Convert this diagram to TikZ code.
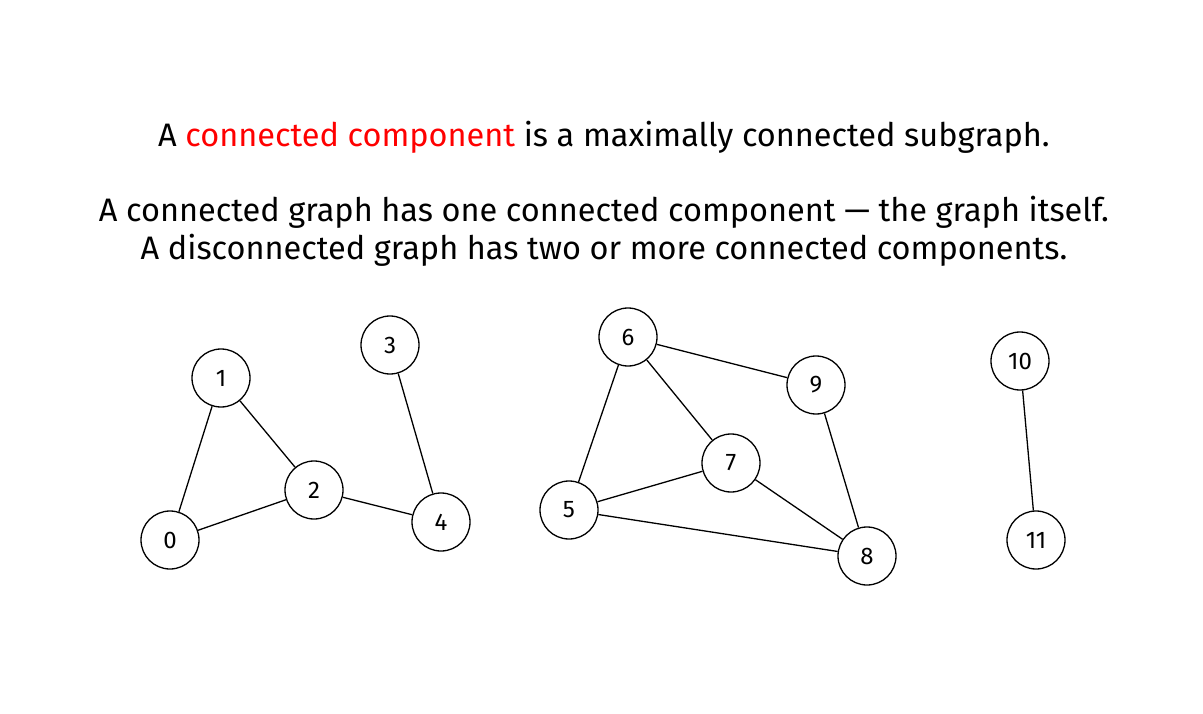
\documentclass[tikz,border=0pt]{standalone}
\usepackage{fontspec}
\setmainfont{Fira Sans}
\begin{document}
\begin{tikzpicture}[x=1pt,y=-1pt,
  v/.style={circle,draw,line width=1.3pt,minimum size=58pt,inner sep=0pt,font=\fontsize{24}{28}\selectfont},
  e/.style={line width=1.3pt}]
\useasboundingbox[fill=white] (0,0) rectangle (1203,714);
\node[font=\fontsize{32.5}{38}\selectfont] (t1) at (604,137) {A \textcolor{red}{connected component} is a maximally connected subgraph.};
\node[font=\fontsize{32.5}{38}\selectfont,align=center] (t2) at (604,231) {A connected graph has one connected component — the graph itself.\\A disconnected graph has two or more connected components.};
\node[v] (n0) at (170,540) {0};
\node[v] (n1) at (221,378) {1};
\node[v] (n2) at (314,490) {2};
\node[v] (n3) at (390,345) {3};
\node[v] (n4) at (441,522) {4};
\node[v] (n5) at (569,510) {5};
\node[v] (n6) at (628,337) {6};
\node[v] (n7) at (731,463) {7};
\node[v] (n8) at (867,556) {8};
\node[v] (n9) at (816,385) {9};
\node[v] (n10) at (1020,361) {10};
\node[v] (n11) at (1036,540) {11};
\foreach \a/\b in {n0/n1,n1/n2,n0/n2,n2/n4,n3/n4,n6/n5,n6/n7,n6/n9,n5/n7,n5/n8,n7/n8,n9/n8,n10/n11}
  \draw[e] (\a) -- (\b);
\end{tikzpicture}
\end{document}
